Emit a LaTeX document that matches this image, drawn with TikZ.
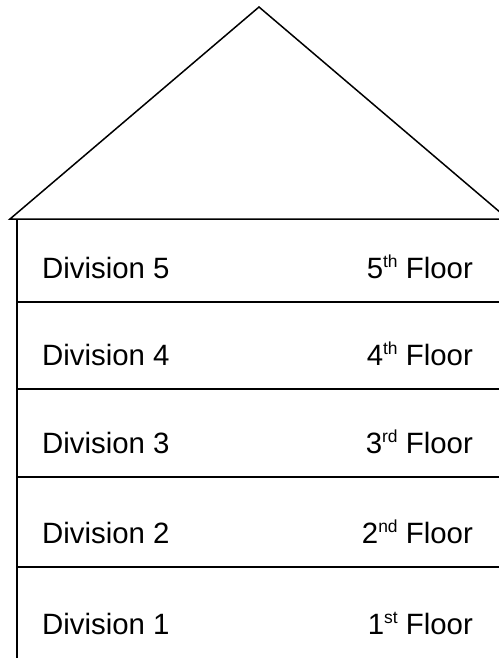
\documentclass[tikz,border=0pt]{standalone}
\usepackage{fontspec}
\setmainfont{Liberation Sans}
% small raised ordinal ending
\newcommand{\ordSuffix}[1]{\raisebox{10.5bp}{\fontsize{17.5}{18}\selectfont #1}}
\begin{document}
\begin{tikzpicture}[
    x=1bp, y=-1bp,
    wallLine/.style={line width=2bp, draw=black},
    roofLine/.style={line width=1.5bp, draw=black, line join=miter},
    divLabel/.style={anchor=base west, inner sep=0pt, font=\fontsize{29.5}{33}\selectfont},
    floorLabel/.style={anchor=base east, inner sep=0pt, font=\fontsize{29.5}{33}\selectfont}
]
    \useasboundingbox (0,0) rectangle (499,658);
    \clip (0,0) rectangle (499,658);

    % Roof
    \coordinate (roofTop) at (259,7);
    \coordinate (roofLeft) at (10,219);
    \coordinate (roofRight) at (508,219);
    \draw[roofLine] (roofLeft) -- (roofTop) -- (roofRight) -- cycle;

    % Outer wall
    \coordinate (wallTop) at (17,219);
    \coordinate (wallBottom) at (17,658);
    \draw[wallLine] (wallTop) -- (wallBottom);

    % Floors (number / lower edge / suffix)
    \foreach \n/\y/\suf in {5/302/th, 4/389/th, 3/477/rd, 2/567/nd, 1/658/st} {
        \node[divLabel] (div\n) at (42,\y-24) {Division \n};
        \node[floorLabel] (floor\n) at (473,\y-24) {\n\ordSuffix{\suf} Floor};
        \ifnum\n>1
            \coordinate (sepL\n) at (17,\y);
            \coordinate (sepR\n) at (499,\y);
            \draw[wallLine] (sepL\n) -- (sepR\n);
        \fi
    }

\end{tikzpicture}
\end{document}
